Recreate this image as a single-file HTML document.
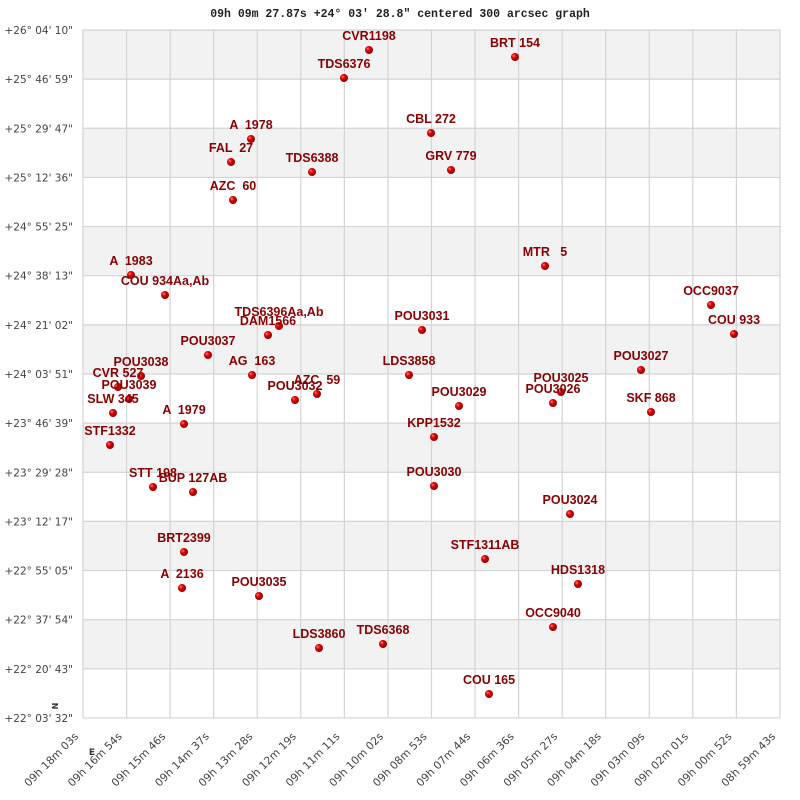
<!DOCTYPE html>
<html><head><meta charset="utf-8"><style>body{margin:0;background:#fff}svg{display:block}</style></head><body>
<svg width="800" height="800" xmlns="http://www.w3.org/2000/svg">
<defs><radialGradient id="g" cx="35%" cy="35%" r="65%"><stop offset="0" stop-color="#ff8080"/><stop offset="0.4" stop-color="#e00000"/><stop offset="1" stop-color="#900000"/></radialGradient></defs>
<text x="400" y="17" text-anchor="middle" font-family="Liberation Mono, monospace" font-weight="bold" font-size="11.5" fill="#222">09h 09m 27.87s +24° 03′ 28.8" centered 300 arcsec graph</text>
<g fill="#f2f2f2">
<rect x="83" y="30" width="697" height="49.1"/><rect x="83" y="128.3" width="697" height="49.1"/><rect x="83" y="226.6" width="697" height="49.1"/><rect x="83" y="324.9" width="697" height="49.1"/><rect x="83" y="423.1" width="697" height="49.1"/><rect x="83" y="521.4" width="697" height="49.1"/><rect x="83" y="619.7" width="697" height="49.1"/>
</g>
<g stroke="#d4d4d4" stroke-width="1.2" id="grid"></g>
<g id="yl" font-family="DejaVu Sans, sans-serif" font-size="10.5" fill="#444" text-anchor="end"></g>
<g id="xl" font-family="DejaVu Sans, sans-serif" font-size="10.8" fill="#444" text-anchor="end"></g>
<text x="60" y="708" font-family="DejaVu Sans, sans-serif" font-size="8" font-weight="bold" fill="#333" transform="rotate(-90 58 708)" text-anchor="middle">N</text>
<text x="92" y="755" font-family="DejaVu Sans, sans-serif" font-size="9" font-weight="bold" fill="#333" text-anchor="middle">E</text>
<g id="pts" font-family="Liberation Sans, Arial, sans-serif" font-weight="bold" font-size="12.5" fill="#8b0000" text-anchor="middle"></g>
</svg>
<script>
var NS="http://www.w3.org/2000/svg";
function el(t,a,p,txt){var e=document.createElementNS(NS,t);for(var k in a)e.setAttribute(k,a[k]);if(txt!=null)e.textContent=txt;document.getElementById(p).appendChild(e);return e;}
var ys=['+26° 04\' 10"','+25° 46\' 59"','+25° 29\' 47"','+25° 12\' 36"','+24° 55\' 25"','+24° 38\' 13"','+24° 21\' 02"','+24° 03\' 51"','+23° 46\' 39"','+23° 29\' 28"','+23° 12\' 17"','+22° 55\' 05"','+22° 37\' 54"','+22° 20\' 43"','+22° 03\' 32"'];
for(var i=0;i<15;i++){var y=30+i*49.14;el('line',{x1:83,x2:780,y1:y,y2:y},'grid');el('text',{x:73,y:y+4},'yl',ys[i]);}
var xs=['09h 18m 03s','09h 16m 54s','09h 15m 46s','09h 14m 37s','09h 13m 28s','09h 12m 19s','09h 11m 11s','09h 10m 02s','09h 08m 53s','09h 07m 44s','09h 06m 36s','09h 05m 27s','09h 04m 18s','09h 03m 09s','09h 02m 01s','09h 00m 52s','08h 59m 43s'];
for(var i=0;i<17;i++){var x=83+i*43.56;el('line',{x1:x,x2:x,y1:30,y2:718},'grid');var tx=x-4,ty=737;el('text',{x:tx,y:ty,transform:'rotate(-45 '+tx+' '+ty+')'},'xl',xs[i]);}
var P=[["CVR1198",369,50],["BRT 154",515,57],["TDS6376",344,78],["A  1978",251,139],["CBL 272",431,133],["FAL  27",231,162],["TDS6388",312,172],["GRV 779",451,170],["AZC  60",233,200],["MTR   5",545,266],["A  1983",131,275],["COU 934Aa,Ab",165,295],["OCC9037",711,305],["TDS6396Aa,Ab",279,326],["DAM1566",268,335],["POU3031",422,330],["COU 933",734,334],["POU3037",208,355],["AG  163",252,375],["POU3038",141,376],["CVR 527",118,387],["POU3039",129,399],["SLW 345",113,413],["A  1979",184,424],["STF1332",110,445],["STT 198",153,487],["BUP 127AB",193,492],["POU3032",295,400],["AZC  59",317,394],["LDS3858",409,375],["POU3029",459,406],["KPP1532",434,437],["POU3025",561,392],["POU3026",553,403],["POU3027",641,370],["SKF 868",651,412],["POU3030",434,486],["POU3024",570,514],["BRT2399",184,552],["STF1311AB",485,559],["HDS1318",578,584],["A  2136",182,588],["POU3035",259,596],["OCC9040",553,627],["LDS3860",319,648],["TDS6368",383,644],["COU 165",489,694]];
P.forEach(function(p){el('circle',{cx:p[1],cy:p[2],r:4,fill:'url(#g)'},'pts');var t=el('text',{x:p[1],y:p[2]-10},'pts',p[0]);t.setAttribute('xml:space','preserve');t.style.whiteSpace='pre';});
</script>
</body></html>
